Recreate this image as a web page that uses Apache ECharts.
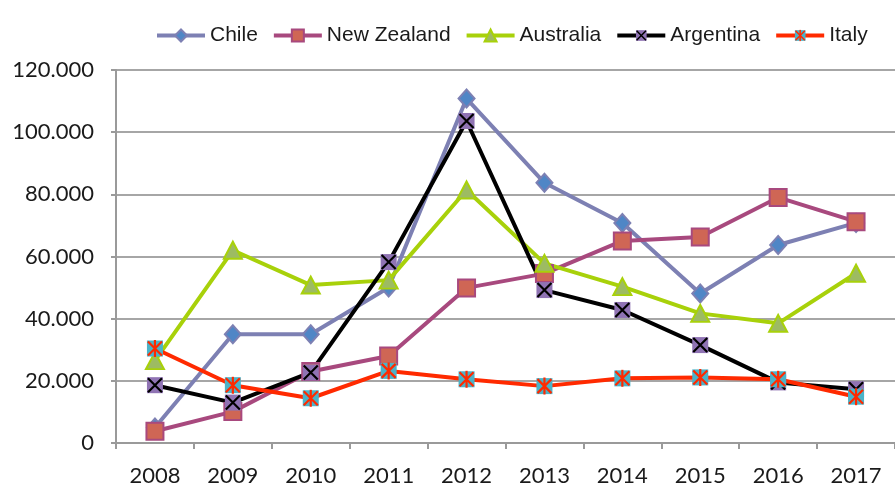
<!DOCTYPE html>
<html>
<head>
<meta charset="utf-8">
<script src="https://cdn.jsdelivr.net/npm/echarts@6/dist/echarts.min.js"></script>
<style>
  html, body { margin: 0; padding: 0; background: #fff; }
  #chart { width: 895px; height: 488px; }
</style>
</head>
<body>
<div id="chart"></div>
<script>
// years on the x axis
const years = ['2008', '2009', '2010', '2011', '2012', '2013', '2014', '2015', '2016', '2017']

// values
const chile = [5000, 35000, 35000, 50000, 110800, 83700, 70800, 48100, 63700, 70800]
const newZealand = [3800, 10100, 23000, 28000, 49900, 54500, 65000, 66300, 79000, 71200]
const australia = [26500, 62000, 50800, 52400, 81400, 57800, 50300, 41700, 38500, 54600]
const argentina = [18600, 13000, 22700, 58200, 103600, 49200, 42800, 31500, 19500, 17300]
const italy = [30400, 18600, 14400, 23200, 20500, 18300, 20800, 21100, 20500, 14900]

// square marker with a cross, drawn as a small svg
function crossMarker(fill, stroke, star) {
  let svg = '<svg xmlns="http://www.w3.org/2000/svg" width="18" height="18" viewBox="0 0 18 18">' +
    '<rect x="1" y="1" width="16" height="16" fill="' + fill + '"/>' +
    '<path d="M2 2L16 16M16 2L2 16' + (star ? 'M9 0.5L9 17.5' : '') + '" stroke="' + stroke + '" stroke-width="2.2" fill="none"/>' +
    '</svg>'
  return 'image://data:image/svg+xml;charset=utf-8,' + encodeURIComponent(svg)
}

const chart = echarts.init(document.getElementById('chart'))

function lineSeries(name, data, color, symbol, size, fill, border) {
  return {
    name: name,
    type: 'line',
    data: data,
    symbol: symbol,
    symbolSize: size,
    showAllSymbol: true,
    lineStyle: { color: color, width: 4 },
    itemStyle: { color: fill, borderColor: border, borderWidth: border ? 2 : 0 },
    emphasis: { disabled: true }
  }
}

chart.setOption({
  animation: false,
  grid: { left: 116, right: -15, top: 70, bottom: 45 },
  legend: {
    left: 150,
    top: 20,
    itemWidth: 48,
    itemHeight: 15,
    itemGap: 14,
    lineStyle: { width: 4 },
    textStyle: { fontFamily: 'Liberation Sans', fontSize: 21, color: '#1a1a1a' },
    data: ['Chile', 'New Zealand', 'Australia', 'Argentina', 'Italy']
  },
  xAxis: {
    type: 'category',
    data: years,
    boundaryGap: true,
    axisLine: { lineStyle: { color: '#9a9a9a', width: 2 } },
    axisTick: { show: true, length: 6, lineStyle: { color: '#9a9a9a', width: 2 } },
    axisLabel: { fontFamily: 'Lato', fontSize: 22, color: '#1a1a1a', margin: 22 }
  },
  yAxis: {
    type: 'value',
    min: 0,
    max: 120000,
    interval: 20000,
    axisLine: { show: true, lineStyle: { color: '#9a9a9a', width: 2 } },
    axisTick: { show: true, length: 5, lineStyle: { color: '#9a9a9a', width: 2 } },
    splitLine: { lineStyle: { color: '#a6a6a6', width: 2 } },
    axisLabel: {
      fontFamily: 'Lato',
      fontSize: 22,
      color: '#1a1a1a',
      margin: 22,
      formatter: v => String(v).replace(/\B(?=(\d{3})+(?!\d))/g, '.')
    }
  },
  series: [
    lineSeries('Chile', chile, '#7d80b3', 'diamond', [16, 18], '#4f86c6', '#7d80b3'),
    lineSeries('New Zealand', newZealand, '#a8497e', 'rect', 17, '#cf6655', '#a8497e'),
    lineSeries('Australia', australia, '#a8d10a', 'triangle', [18, 17], '#9dbb62', '#a8d10a'),
    lineSeries('Argentina', argentina, '#000000', crossMarker('#8f73b3', '#000', false), 18, '#8f73b3', null),
    lineSeries('Italy', italy, '#ff2a00', crossMarker('#4bb3c8', '#ff2a00', true), 18, '#4bb3c8', null)
  ]
})
</script>
</body>
</html>
